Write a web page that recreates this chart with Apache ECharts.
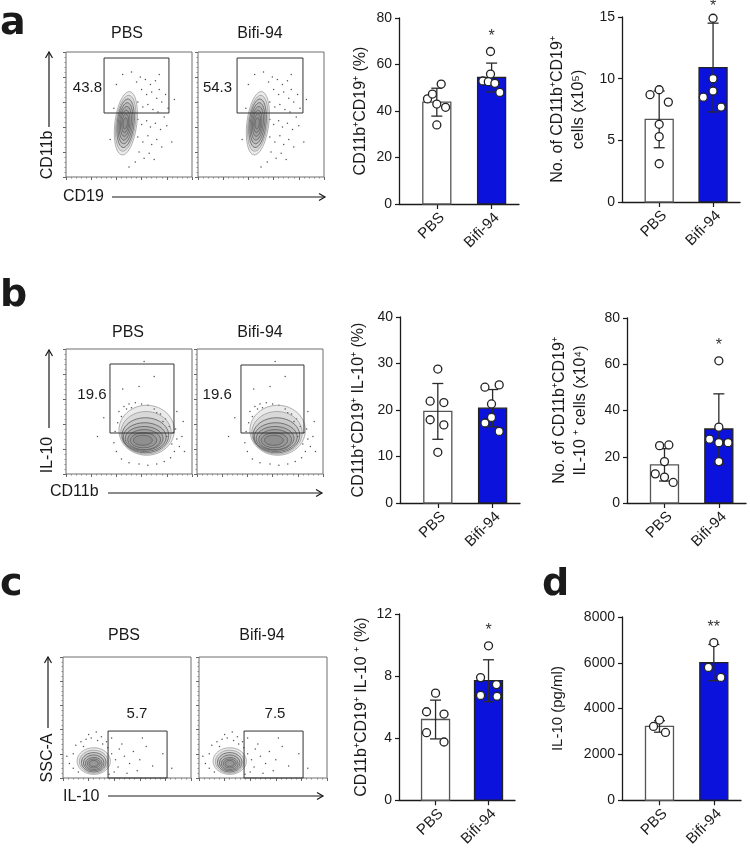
<!DOCTYPE html>
<html>
<head>
<meta charset="utf-8">
<script src="https://cdn.jsdelivr.net/npm/echarts@6/dist/echarts.min.js"></script>
<style>
html, body { margin: 0; padding: 0; background: #fff; }
#main { width: 750px; height: 849px; }
</style>
</head>
<body>
<div id="main"></div>
<script>
// ---- data ----
const groups = ['PBS', 'Bifi-94'];

// a: CD11b+CD19+ (%)
const a1Mean = [43.8, 54.4];
const a1Sd = [6.0, 6.2];
const a1Pbs = [45.2, 47.3, 51.6, 43.0, 41.6, 34.0];
const a1Bifi = [65.6, 55.9, 52.9, 52.6, 51.9, 48.0];
// a: No. of CD11b+CD19+ cells (x10^5)
const a2Mean = [6.7, 10.9];
const a2Sd = [2.3, 3.6];
const a2Pbs = [8.7, 9.1, 8.1, 6.3, 5.3, 3.1];
const a2Bifi = [14.9, 10.0, 9.0, 8.5, 7.7];
// b: CD11b+CD19+ IL-10+ (%)
const b1Mean = [19.7, 20.4];
const b1Sd = [6.0, 4.0];
const b1Pbs = [28.8, 21.9, 21.6, 17.9, 16.8, 10.9];
const b1Bifi = [24.9, 25.4, 21.3, 18.4, 17.2, 15.4];
// b: No. of CD11b+CD19+ IL-10+ cells (x10^4)
const b2Mean = [16.5, 32.0];
const b2Sd = [7.0, 15.2];
const b2Pbs = [24.8, 25.1, 17.9, 12.6, 11.2, 8.9];
const b2Bifi = [61.5, 32.8, 27.6, 26.1, 26.1, 17.9];
// c: CD11b+CD19+ IL-10+ (%)
const c1Mean = [5.2, 7.7];
const c1Sd = [1.25, 1.35];
const c1Pbs = [6.9, 5.7, 5.55, 4.35, 3.75];
const c1Bifi = [9.95, 7.9, 7.45, 6.75, 6.7];
// d: IL-10 (pg/ml)
const dMean = [3220, 6010];
const dSd = [250, 790];
const dPbs = [3500, 3220, 2960];
const dBifi = [6880, 5800, 5360];

// flow gate percentages
const aGate = ['43.8', '54.3'];
const bGate = ['19.6', '19.6'];
const cGate = ['5.7', '7.5'];

// gates [x1, x2, y1, y2] in plot units (0-100)
const gateAPbs = [30.2, 81.7, 51.2, 95.2];
const gateABifi = [31.0, 83.3, 51.2, 95.2];
const gateBPbs = [34.9, 85.7, 32.8, 88.0];
const gateBBifi = [34.9, 84.9, 32.8, 87.2];
const gateCPbs = [35.2, 81.3, 0, 38.8];
const gateCBifi = [35.2, 81.3, 0, 38.8];

// contour levels [cx, cy, rx, ry, tilt]
const contourA = [
  [47.5, 43, 8.7, 25.5, 7], [47.4, 43, 7.7, 22.5, 7], [47.3, 43, 6.7, 19.5, 6],
  [47.2, 43, 5.7, 16.5, 6], [47.1, 43, 4.7, 13.5, 6], [47, 43, 3.7, 10.5, 5],
  [47, 43, 2.7, 7.5, 5], [47, 43, 1.7, 4.5, 5]
];
const contourB = [
  [64, 35, 22, 20, 0], [63.5, 33, 20, 17, 0], [63, 31, 18.5, 14, 0],
  [62.5, 29.5, 17, 11.5, 0], [62, 28.5, 15, 9.5, 0], [62, 27.5, 13, 8, 0],
  [61.5, 27, 10.5, 6, 0], [61, 27, 7.5, 4, 0]
];
const contourC = [
  [24, 14, 13, 11, 0], [24, 13.5, 11.2, 9.5, 0], [24, 13, 9.6, 8, 0],
  [24, 12.5, 8, 6.5, 0], [24, 12, 6.5, 5, 0], [24, 12, 5, 3.7, 0], [24, 12, 3.5, 2.5, 0]
];

// scattered events outside the contours
const dotsA = [
  [56,76],[59,80],[63,78],[67,74],[71,77],[74,70],[60,70],[64,66],[68,68],[72,63],[76,60],[79,66],
  [57,60],[61,56],[65,58],[69,54],[73,52],[78,48],[81,55],[57,46],[60,42],[64,45],[67,40],[71,43],
  [75,38],[80,41],[57,32],[61,28],[65,33],[68,26],[72,30],[76,24],[58,20],[62,15],[66,19],[70,14],
  [55,12],[52,84],[45,82],[40,74],[38,55],[35,30],[84,28],[86,62],[50,8],[74,82]
];
const dotsB = [
  [42,50],[46,54],[50,56],[55,57],[60,56],[65,55],[70,52],[75,48],[79,44],[44,46],[48,52],[52,53],
  [72,49],[77,42],[82,38],[85,33],[88,28],[90,22],[86,18],[83,13],[78,10],[72,8],[65,7],[58,8],
  [50,9],[44,12],[40,18],[38,25],[39,34],[41,41],[84,24],[87,36],[92,30],[94,18],[80,30],[58,70],
  [70,78],[45,68],[88,50],[93,42],[25,30],[30,45],[62,90]
];
const dotsC = [
  [5,12],[8,20],[10,27],[14,30],[18,32],[22,33],[27,31],[31,28],[35,25],[38,20],[41,15],[43,9],
  [40,5],[36,3],[12,5],[8,8],[16,26],[30,34],[34,30],[44,24],[48,18],[52,12],[46,28],[55,22],
  [60,15],[65,26],[58,6],[50,4],[3,18],[26,38],[20,36],[38,33],[70,10],[62,33],[78,20],[85,8]
];

// ---- layout ----
const FONT = '"Liberation Sans", Arial, sans-serif';
const BLUE = '#0a12dc';
const INK = '#1a1a1a';

// horizontal spread of dots inside each bar (in category units)
const jit = {
  a1: [[-0.17, -0.08, 0.08, 0, 0.16, 0], [-0.02, -0.02, -0.16, -0.06, 0.06, 0.15]],
  a2: [[-0.17, 0, 0.17, 0, 0, 0], [0, 0, 0, -0.18, 0.15]],
  b1: [[0, -0.14, 0.11, -0.14, 0.11, 0], [-0.14, 0.12, -0.02, -0.02, -0.14, 0.12]],
  b2: [[-0.09, 0.08, 0, -0.17, 0, 0.16], [0, 0, -0.17, 0, 0.17, 0]],
  c1: [[0, -0.17, 0.16, -0.17, 0.16], [0, -0.15, 0.15, -0.15, 0.16]],
  d: [[0, -0.11, 0.11], [0, -0.1, 0.13]]
};

const barPanels = [
  { key: 'a1', left: 399, top: 18, width: 120, height: 186, max: 80, interval: 20,
    name: 'CD11b⁺CD19⁺ (%)', nameGap: 28, nameSize: 16,
    mean: a1Mean, sd: a1Sd, pbs: a1Pbs, bifi: a1Bifi, sig: '*' },
  { key: 'a2', left: 622, top: 17, width: 118, height: 185, max: 15, interval: 5,
    name: 'No. of CD11b⁺CD19⁺\ncells (x10⁵)', nameGap: 33, nameSize: 16,
    mean: a2Mean, sd: a2Sd, pbs: a2Pbs, bifi: a2Bifi, sig: '*' },
  { key: 'b1', left: 400, top: 317, width: 120, height: 186, max: 40, interval: 10,
    name: 'CD11b⁺CD19⁺ IL-10⁺ (%)', nameGap: 31, nameSize: 16,
    mean: b1Mean, sd: b1Sd, pbs: b1Pbs, bifi: b1Bifi, sig: '' },
  { key: 'b2', left: 627, top: 318, width: 119, height: 185, max: 80, interval: 20,
    name: 'No. of CD11b⁺CD19⁺\nIL-10 ⁺ cells (x10⁴)', nameGap: 36, nameSize: 16,
    mean: b2Mean, sd: b2Sd, pbs: b2Pbs, bifi: b2Bifi, sig: '*' },
  { key: 'c1', left: 399, top: 614, width: 116, height: 187, max: 12, interval: 4,
    name: 'CD11b⁺CD19⁺ IL-10 ⁺ (%)', nameGap: 24, nameSize: 16,
    mean: c1Mean, sd: c1Sd, pbs: c1Pbs, bifi: c1Bifi, sig: '*' },
  { key: 'd', left: 622, top: 617, width: 119, height: 185, max: 8000, interval: 2000,
    name: 'IL-10 (pg/ml)', nameGap: 54, nameSize: 15,
    mean: dMean, sd: dSd, pbs: dPbs, bifi: dBifi, sig: '**' }
];

const flowPanels = [
  { box: [66, 52, 126, 125], contour: contourA, dots: dotsA, gate: gateAPbs, label: aGate[0], at: [17, 71] },
  { box: [198, 52, 126, 125], contour: contourA, dots: dotsA, gate: gateABifi, label: aGate[1], at: [15.5, 71] },
  { box: [66, 349, 126, 125], contour: contourB, dots: dotsB, gate: gateBPbs, label: bGate[0], at: [20.6, 63] },
  { box: [197, 349, 126, 125], contour: contourB, dots: dotsB, gate: gateBBifi, label: bGate[1], at: [16, 63] },
  { box: [63, 657, 128, 121], contour: contourC, dots: dotsC, gate: gateCPbs, label: cGate[0], at: [57.8, 53] },
  { box: [199, 657, 128, 121], contour: contourC, dots: dotsC, gate: gateCBifi, label: cGate[1], at: [59.4, 53] }
];

const grids = [], xAxes = [], yAxes = [], series = [];

// ---- flow cytometry plots ----
function contourItem(params, api) {
  const c = api.coord([api.value(0), api.value(1)]);
  const s = api.size([api.value(2), api.value(3)]);
  const rx = Math.abs(s[0]), ry = Math.abs(s[1]);
  const a = api.value(4) * Math.PI / 180;
  const pts = [];
  for (let k = 0; k < 48; k++) {
    const t = k / 48 * Math.PI * 2;
    const ex = rx * Math.cos(t), ey = ry * Math.sin(t);
    pts.push([c[0] + ex * Math.cos(a) - ey * Math.sin(a), c[1] + ex * Math.sin(a) + ey * Math.cos(a)]);
  }
  return {
    type: 'polygon', shape: { points: pts },
    style: { fill: 'rgba(70,70,70,0.11)', stroke: params.dataIndex < 2 ? '#9c9c9c' : '#5c5c5c', lineWidth: 0.8 }
  };
}

flowPanels.forEach(p => {
  const gi = grids.length;
  grids.push({ left: p.box[0], top: p.box[1], width: p.box[2], height: p.box[3],
    show: true, borderColor: '#6e6e6e', borderWidth: 1, backgroundColor: 'transparent' });
  const ax = {
    gridIndex: gi, type: 'value', min: 0, max: 100, interval: 20,
    axisLine: { show: false, onZero: false },
    axisTick: { show: true, length: 3, lineStyle: { color: '#666' } },
    minorTick: { show: true, splitNumber: 5, length: 1.5, lineStyle: { color: '#888' } },
    axisLabel: { show: false }, splitLine: { show: false }
  };
  xAxes.push(Object.assign({}, ax));
  yAxes.push(Object.assign({}, ax));
  series.push({
    type: 'scatter', xAxisIndex: gi, yAxisIndex: gi, data: p.dots, symbolSize: 1.5,
    itemStyle: { color: '#2a2a2a' }, silent: true, z: 2
  });
  series.push({
    type: 'custom', xAxisIndex: gi, yAxisIndex: gi, data: p.contour, clip: true, silent: true, z: 3,
    renderItem: contourItem
  });
  series.push({
    type: 'custom', xAxisIndex: gi, yAxisIndex: gi, data: [p.gate], silent: true, z: 4,
    renderItem: (params, api) => {
      const p1 = api.coord([api.value(0), api.value(3)]);
      const p2 = api.coord([api.value(1), api.value(2)]);
      const t = api.coord(p.at);
      return {
        type: 'group', children: [
          { type: 'rect', shape: { x: p1[0], y: p1[1], width: p2[0] - p1[0], height: p2[1] - p1[1] },
            style: { fill: 'none', stroke: '#333', lineWidth: 1 } },
          { type: 'text', x: t[0], y: t[1],
            style: { text: p.label, font: '15px ' + FONT, fill: INK, textAlign: 'center', textVerticalAlign: 'middle' } }
        ]
      };
    }
  });
});

// ---- bar charts ----
barPanels.forEach(p => {
  const gi = grids.length;
  grids.push({ left: p.left, top: p.top, width: p.width, height: p.height });
  xAxes.push({
    gridIndex: gi, type: 'value', min: -0.69, max: 1.5,
    axisLine: { show: true, onZero: false, lineStyle: { color: INK, width: 1.3 } },
    axisTick: { show: true, customValues: [0, 1], length: 5, lineStyle: { color: INK, width: 1.2 } },
    axisLabel: { customValues: [0, 1], formatter: v => groups[Math.round(v)], rotate: 45, margin: 6,
      verticalAlign: 'top', fontSize: 15, color: INK, fontFamily: FONT },
    splitLine: { show: false }
  });
  yAxes.push({
    gridIndex: gi, type: 'value', min: 0, max: p.max, interval: p.interval,
    axisLine: { show: true, onZero: false, lineStyle: { color: INK, width: 1.3 } },
    axisTick: { show: true, length: 4, lineStyle: { color: INK, width: 1.2 } },
    axisLabel: { fontSize: 14, color: INK, margin: 7, fontFamily: FONT, formatter: v => String(v) },
    splitLine: { show: false },
    name: p.name, nameLocation: 'middle', nameRotate: 90, nameGap: p.nameGap,
    nameTextStyle: { fontSize: p.nameSize, fontFamily: FONT, color: INK, lineHeight: 21 }
  });
  // bars
  series.push({
    type: 'custom', xAxisIndex: gi, yAxisIndex: gi, z: 2, silent: true,
    data: p.mean.map((m, i) => [i, m]),
    renderItem: (params, api) => {
      const x = api.value(0), v = api.value(1);
      const p0 = api.coord([x, 0]), p1 = api.coord([x, v]);
      const bw = 28, blue = params.dataIndex === 1;
      return {
        type: 'rect', shape: { x: p0[0] - bw / 2, y: p1[1], width: bw, height: p0[1] - p1[1] },
        style: { fill: blue ? BLUE : '#fff', stroke: blue ? '#222' : '#555', lineWidth: 1.3 }
      };
    }
  });
  // error bars (mean ± SD)
  series.push({
    type: 'custom', xAxisIndex: gi, yAxisIndex: gi, z: 3, silent: true,
    data: p.mean.map((m, i) => [i, m - p.sd[i], m + p.sd[i]]),
    renderItem: (params, api) => {
      const x = api.value(0);
      const lo = api.coord([x, api.value(1)]), hi = api.coord([x, api.value(2)]);
      const w = 5.5, st = { stroke: '#2a2a2a', lineWidth: 1.3 };
      return {
        type: 'group', children: [
          { type: 'line', shape: { x1: lo[0], y1: lo[1], x2: hi[0], y2: hi[1] }, style: st },
          { type: 'line', shape: { x1: hi[0] - w, y1: hi[1], x2: hi[0] + w, y2: hi[1] }, style: st },
          { type: 'line', shape: { x1: lo[0] - w, y1: lo[1], x2: lo[0] + w, y2: lo[1] }, style: st }
        ]
      };
    }
  });
  // individual mice
  const pts = p.pbs.map((v, i) => [jit[p.key][0][i], v])
    .concat(p.bifi.map((v, i) => [1 + jit[p.key][1][i], v]));
  series.push({
    type: 'scatter', xAxisIndex: gi, yAxisIndex: gi, z: 4, silent: true, data: pts, symbolSize: 8,
    itemStyle: { color: '#fff', borderColor: '#222', borderWidth: 1.3, opacity: 1 }
  });
  // significance
  if (p.sig) {
    const top = Math.max(Math.max(...p.bifi), p.mean[1] + p.sd[1]);
    series.push({
      type: 'custom', xAxisIndex: gi, yAxisIndex: gi, z: 5, silent: true, clip: false,
      data: [[1, top]],
      renderItem: (params, api) => {
        const c = api.coord([api.value(0), api.value(1)]);
        return { type: 'text', x: c[0], y: Math.max(c[1] - 15, 7),
          style: { text: p.sig, font: '16px ' + FONT, fill: '#333', textAlign: 'center', textVerticalAlign: 'middle' } };
      }
    });
  }
});

// ---- decorations: panel letters, flow titles, axis arrows ----
const deco = [];
function txt(x, y, text, font, align, rot) {
  deco.push({ type: 'text', x: x, y: y, rotation: rot || 0, silent: true,
    style: { text: text, font: font, fill: INK, textAlign: align || 'center', textVerticalAlign: 'middle' } });
}
function arrowUp(x, y1, y2) {
  deco.push({ type: 'line', silent: true, shape: { x1: x, y1: y1, x2: x, y2: y2 }, style: { stroke: INK, lineWidth: 1.2 } });
  deco.push({ type: 'polyline', silent: true, shape: { points: [[x - 3.5, y2 + 6], [x, y2], [x + 3.5, y2 + 6]] },
    style: { stroke: INK, lineWidth: 1.2, fill: 'none' } });
}
function arrowRight(y, x1, x2) {
  deco.push({ type: 'line', silent: true, shape: { x1: x1, y1: y, x2: x2, y2: y }, style: { stroke: INK, lineWidth: 1.2 } });
  deco.push({ type: 'polyline', silent: true, shape: { points: [[x2 - 6, y - 3.5], [x2, y], [x2 - 6, y + 3.5]] },
    style: { stroke: INK, lineWidth: 1.2, fill: 'none' } });
}
const LETTER = 'bold 38px "DejaVu Sans", sans-serif';
const LBL = '16px ' + FONT;
txt(0, 24, 'a', LETTER, 'left');
txt(0, 296, 'b', LETTER, 'left');
txt(0, 585, 'c', LETTER, 'left');
txt(542, 585, 'd', LETTER, 'left');

txt(127, 34, groups[0], LBL); txt(260, 34, groups[1], LBL);
txt(128, 333, groups[0], LBL); txt(260, 333, groups[1], LBL);
txt(124, 636, groups[0], LBL); txt(262, 636, groups[1], LBL);

arrowUp(49, 127, 52); txt(48, 155, 'CD11b', LBL, 'center', Math.PI / 2);
arrowRight(197, 112, 325); txt(63, 197, 'CD19', LBL, 'left');
arrowUp(49, 428, 350); txt(48, 455, 'IL-10', LBL, 'center', Math.PI / 2);
arrowRight(493, 108, 322); txt(50, 492, 'CD11b', LBL, 'left');
arrowUp(48, 728, 657); txt(48, 758, 'SSC-A', LBL, 'center', Math.PI / 2);
arrowRight(796, 108, 323); txt(63, 797, 'IL-10', LBL, 'left');

const chart = echarts.init(document.getElementById('main'));
chart.setOption({
  animation: false,
  backgroundColor: '#fff',
  grid: grids,
  xAxis: xAxes,
  yAxis: yAxes,
  series: series,
  graphic: deco
});
</script>
</body>
</html>
